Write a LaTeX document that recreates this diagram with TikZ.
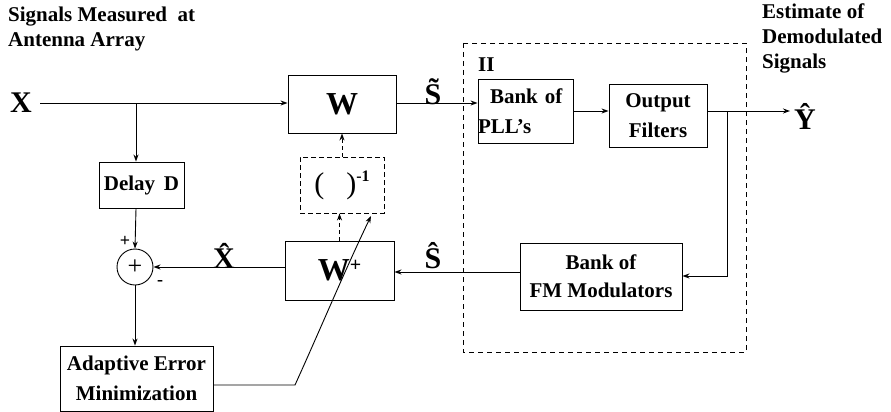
\documentclass[tikz,border=0pt]{standalone}
\usepackage{fontspec}
\setmainfont{Liberation Serif}
\usetikzlibrary{arrows.meta}
\begin{document}
\begin{tikzpicture}[x=1pt,y=-1pt,
  blk/.style={draw,line width=0.9pt,inner sep=0pt,font=\fontsize{21}{24}\selectfont\bfseries,align=center},
  conn/.style={line width=0.9pt,-{Stealth[length=7pt,width=5pt]}},
  lbl/.style={font=\fontsize{21}{25}\selectfont\bfseries,align=left,inner sep=0pt},
  big/.style={font=\fontsize{30}{32}\selectfont\bfseries,inner sep=0pt}]
\useasboundingbox (0,0) rectangle (891,412);
% dashed region
\draw[dashed,line width=0.9pt,dash pattern=on 5pt off 4pt] (463,43) rectangle (746,352);
\node[lbl,anchor=west] (ii) at (478,65) {II};
% blocks
\node[blk,minimum width=108pt,minimum height=58pt] (W) at (342,104) {\fontsize{32}{34}\selectfont W};
\node[blk,minimum width=85pt,minimum height=46pt] (D) at (141.5,185) {Delay\, D};
\node[draw,circle,line width=0.9pt,minimum size=36pt,inner sep=0pt,font=\fontsize{26}{26}\selectfont] (sum) at (135,267) {+};
\node[blk,minimum width=153pt,minimum height=65pt] (A) at (136.5,378.5) {Adaptive Error\\[6pt]Minimization};
\node[blk,minimum width=109pt,minimum height=59pt] (Wp) at (339.5,270.5) {\fontsize{32}{34}\selectfont W\raisebox{9pt}{\fontsize{20}{20}\selectfont +}};
\node[blk,dashed,dash pattern=on 5pt off 3pt,minimum width=84pt,minimum height=56pt] (inv) at (342,185) {\mdseries\fontsize{30}{32}\selectfont (\hspace{22pt})\raisebox{12pt}{\bfseries\fontsize{16}{16}\selectfont -1}};
\node[blk,minimum width=95pt,minimum height=64pt,align=left,text width=95pt] (P) at (525.5,111) {\hspace*{12pt}Bank of\\[6pt]PLL's};
\node[blk,minimum width=98pt,minimum height=63pt] (O) at (658,115.5) {Output\\[6pt]Filters};
\node[blk,minimum width=162pt,minimum height=67pt] (F) at (601,276.5) {Bank of\\[4pt]FM Modulators};
% text labels
\node[lbl,anchor=north west] (in) at (8,7) {Signals Measured\ \ at\\Antenna Array};
\node[lbl,anchor=north west] (out) at (762,4) {Estimate of\\Demodulated\\Signals};
\node[big] (X) at (21,103) {X};
\node[big] (St) at (433,92) {\~{S}};
\node[big] (Xh) at (224,256) {\^{X}};
\node[big] (Sh) at (433,256) {\^{S}};
\node[big] (Yh) at (805,116) {\^{Y}};
\node[font=\fontsize{18}{18}\selectfont\bfseries,inner sep=0pt] (pl) at (125,241) {+};
\node[font=\fontsize{18}{18}\selectfont\bfseries,inner sep=0pt] (mi) at (160,283) {-};
% connectors
\coordinate (xs) at (40,103);
\coordinate (b1) at (136,103);
\draw[conn] (xs) -- (W.west |- xs);
\draw[conn] (b1) -- (D.north -| b1);
\draw[conn] (D.south -| b1) -- (sum.north);
\draw[conn] (Wp.west |- sum.east) -- (sum.east);
\draw[conn] (sum.south) -- (A.north -| sum.south);
\draw[conn] (W.east |- xs) -- (P.west |- xs);
\coordinate (po) at (573,111);
\draw[conn] (po) -- (O.west |- po);
\coordinate (yo) at (790,111);
\draw[conn] (O.east |- yo) -- (yo);
\coordinate (b2) at (727,111);
\coordinate (b3) at (727,276);
\draw[conn] (b2) -- (b3) -- (F.east |- b3);
\coordinate (fw) at (520,272);
\draw[conn] (fw) -- (Wp.east |- fw);
\draw[conn,dashed,dash pattern=on 4pt off 3pt] (Wp.north) -- (inv.south -| Wp.north);
\draw[conn,dashed,dash pattern=on 4pt off 3pt] (inv.north) -- (W.south);
\coordinate (ae) at (295,385);
\coordinate (tip) at (371,216);
\draw[conn] (A.east |- ae) -- (ae) .. controls (320,330) and (345,270) .. (tip);
\end{tikzpicture}
\end{document}
